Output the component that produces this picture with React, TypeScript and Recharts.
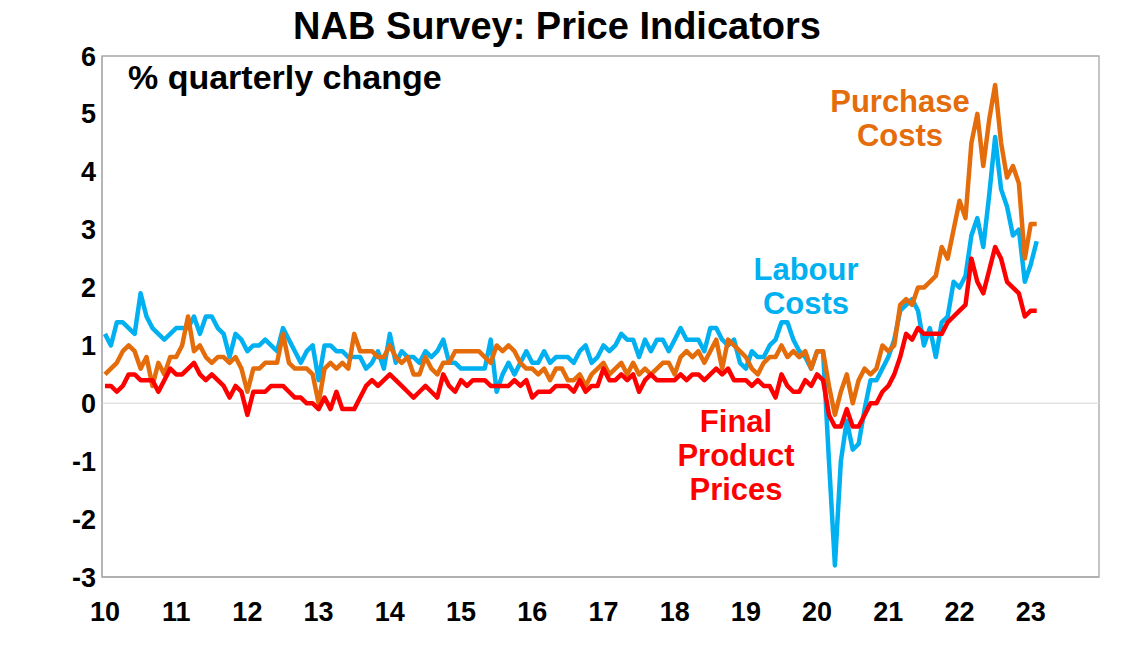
import React from 'react'
import { LineChart, Line, XAxis, YAxis, ReferenceLine, ReferenceArea } from 'recharts'

// monthly, Jan 2010 .. Feb 2023
const yearLabels = ['10', '11', '12', '13', '14', '15', '16', '17', '18', '19', '20', '21', '22', '23']

const labourCosts = [
  1.2, 1.0, 1.4, 1.4, 1.3, 1.2, 1.9, 1.5, 1.3, 1.2,
  1.1, 1.2, 1.3, 1.3, 1.3, 1.5, 1.2, 1.5, 1.5, 1.3,
  1.2, 0.8, 1.2, 1.1, 0.9, 1.0, 1.0, 1.1, 1.0, 0.9,
  1.3, 1.1, 0.9, 0.7, 0.9, 1.0, 0.4, 1.0, 1.0, 0.9,
  0.9, 0.8, 0.8, 0.8, 0.6, 0.7, 0.9, 0.6, 1.2, 0.7,
  0.9, 0.8, 0.8, 0.7, 0.9, 0.8, 0.9, 1.1, 0.7, 0.7,
  0.6, 0.6, 0.6, 0.6, 0.6, 1.1, 0.2, 0.5, 0.7, 0.5,
  0.7, 0.9, 0.7, 0.7, 0.9, 0.7, 0.8, 0.8, 0.8, 0.7,
  0.9, 1.0, 0.7, 0.8, 1.0, 0.9, 1.0, 1.2, 1.1, 1.1,
  0.8, 1.1, 0.9, 1.1, 1.1, 0.9, 1.1, 1.3, 1.1, 1.1,
  1.1, 0.9, 1.3, 1.3, 1.1, 1.0, 1.1, 0.7, 0.6, 0.9,
  0.8, 0.8, 1.0, 1.1, 1.4, 1.4, 1.1, 0.9, 0.8, 0.6,
  0.9, 0.9, -1.0, -2.8, -1.0, -0.3, -0.8, -0.7, -0.1, 0.4,
  0.4, 0.6, 0.8, 1.1, 1.6, 1.7, 1.8, 1.6, 1.0, 1.3,
  0.8, 1.4, 1.5, 2.1, 2.0, 2.2, 2.9, 3.2, 2.7, 3.6,
  4.6, 3.7, 3.4, 2.9, 3.0, 2.1, 2.4, 2.8,
]

const purchaseCosts = [
  0.5, 0.6, 0.7, 0.9, 1.0, 0.9, 0.6, 0.8, 0.3, 0.7,
  0.5, 0.8, 0.8, 1.0, 1.5, 0.9, 1.0, 0.8, 0.7, 0.8,
  0.8, 0.7, 0.8, 0.6, 0.2, 0.6, 0.6, 0.7, 0.7, 0.7,
  1.2, 0.7, 0.6, 0.6, 0.6, 0.5, 0.0, 0.6, 0.7, 0.6,
  0.7, 0.6, 1.2, 0.9, 0.9, 0.9, 0.8, 0.8, 1.0, 0.8,
  0.7, 0.8, 0.5, 0.5, 0.8, 0.6, 0.5, 0.7, 0.7, 0.9,
  0.9, 0.9, 0.9, 0.9, 0.8, 0.7, 1.0, 0.9, 1.0, 0.9,
  0.7, 0.6, 0.6, 0.5, 0.6, 0.4, 0.6, 0.6, 0.4, 0.4,
  0.5, 0.3, 0.5, 0.6, 0.7, 0.5, 0.6, 0.7, 0.5, 0.7,
  0.5, 0.6, 0.5, 0.6, 0.7, 0.7, 0.5, 0.8, 0.9, 0.8,
  0.9, 0.7, 0.9, 1.1, 0.6, 1.1, 1.0, 0.9, 0.8, 0.6,
  0.5, 0.7, 0.8, 0.8, 1.0, 0.8, 0.9, 0.8, 0.9, 0.6,
  0.9, 0.9, 0.3, -0.2, 0.2, 0.5, 0.0, 0.4, 0.6, 0.5,
  0.6, 1.0, 0.9, 1.0, 1.7, 1.8, 1.7, 2.0, 2.0, 2.1,
  2.2, 2.7, 2.5, 3.0, 3.5, 3.2, 4.5, 5.0, 4.1, 4.9,
  5.5, 4.5, 3.9, 4.1, 3.8, 2.5, 3.1, 3.1,
]

const finalPrices = [
  0.3, 0.3, 0.2, 0.3, 0.5, 0.5, 0.4, 0.4, 0.4, 0.2,
  0.4, 0.6, 0.5, 0.5, 0.6, 0.7, 0.5, 0.4, 0.5, 0.4,
  0.3, 0.1, 0.3, 0.2, -0.2, 0.2, 0.2, 0.2, 0.3, 0.3,
  0.3, 0.2, 0.1, 0.1, 0.0, 0.0, -0.1, 0.1, -0.1, 0.2,
  -0.1, -0.1, -0.1, 0.1, 0.3, 0.4, 0.3, 0.4, 0.5, 0.4,
  0.3, 0.2, 0.1, 0.2, 0.3, 0.2, 0.1, 0.5, 0.3, 0.2,
  0.4, 0.3, 0.4, 0.4, 0.4, 0.3, 0.3, 0.3, 0.3, 0.4,
  0.3, 0.4, 0.1, 0.2, 0.2, 0.2, 0.3, 0.3, 0.3, 0.2,
  0.4, 0.2, 0.3, 0.3, 0.6, 0.4, 0.4, 0.5, 0.4, 0.5,
  0.2, 0.4, 0.5, 0.4, 0.4, 0.4, 0.4, 0.5, 0.4, 0.5,
  0.5, 0.4, 0.5, 0.6, 0.5, 0.6, 0.4, 0.4, 0.4, 0.3,
  0.4, 0.3, 0.3, 0.1, 0.5, 0.3, 0.2, 0.2, 0.4, 0.3,
  0.5, 0.4, -0.2, -0.4, -0.4, -0.1, -0.4, -0.4, -0.2, 0.0,
  0.0, 0.2, 0.3, 0.5, 0.8, 1.2, 1.1, 1.3, 1.2, 1.2,
  1.2, 1.2, 1.4, 1.5, 1.6, 1.7, 2.5, 2.1, 1.9, 2.3,
  2.7, 2.5, 2.1, 2.0, 1.9, 1.5, 1.6, 1.6,
]

const yTicks = [-3, -2, -1, 0, 1, 2, 3, 4, 5, 6]

const data = labourCosts.map((v, i) => ({
  m: i,
  labour: v,
  purchase: purchaseCosts[i],
  final: finalPrices[i],
}))

const yearTicks = yearLabels.map((_, i) => i * 12)
const lastCat = yearLabels.length * 12 - 1 // axis runs to Dec-23

const BLUE = '#00B0F0'
const ORANGE = '#E46C0A'
const RED = '#FF0000'
const FONT = '"Liberation Sans", Arial, sans-serif'

const tickStyle = { fill: '#000', fontSize: 27, fontWeight: 700, fontFamily: FONT }

// series captions, one entry per line
const NOTE_SIZE = 31
const NOTE_GAP = 34

function Note({ x, cy, lines, color }: { x: number; cy: number; lines: string[]; color: string }) {
  const top = cy - ((lines.length - 1) * NOTE_GAP) / 2
  return (
    <>
      {lines.map((t, i) => (
        <text key={t} x={x} y={top + i * NOTE_GAP + NOTE_SIZE * 0.36} textAnchor="middle" fontSize={NOTE_SIZE} fill={color}>
          {t}
        </text>
      ))}
    </>
  )
}

export default function App() {
  return (
    <div style={{ position: 'absolute', left: 0, top: 0, width: 1123, height: 660, background: '#fff', fontFamily: FONT }}>
      <LineChart width={1123} height={660} data={data} margin={{ top: 56, right: 24, bottom: 43, left: 42 }}>
        <ReferenceArea x1={-0.5} x2={lastCat + 0.5} y1={-3} y2={6} fill="none" stroke="#A6A6A6" strokeWidth={1.3} />
        <ReferenceLine y={0} stroke="#E3E3E3" strokeWidth={1.5} />
        <XAxis
          dataKey="m"
          type="number"
          domain={[-0.5, lastCat + 0.5]}
          ticks={yearTicks}
          tickFormatter={(m) => yearLabels[m / 12]}
          interval={0}
          tick={tickStyle}
          tickLine={false}
          tickSize={0}
          tickMargin={25}
          axisLine={{ stroke: '#A6A6A6' }}
          height={40}
        />
        <YAxis
          type="number"
          domain={[-3, 6]}
          ticks={yTicks}
          interval={0}
          tick={tickStyle}
          tickLine={false}
          tickSize={0}
          tickMargin={6}
          axisLine={{ stroke: '#A6A6A6' }}
          width={60}
        />
        <Line type="linear" dataKey="labour" stroke={BLUE} strokeWidth={4.5} dot={false} strokeLinejoin="round" isAnimationActive={false} />
        <Line type="linear" dataKey="purchase" stroke={ORANGE} strokeWidth={4.5} dot={false} strokeLinejoin="round" isAnimationActive={false} />
        <Line type="linear" dataKey="final" stroke={RED} strokeWidth={4.5} dot={false} strokeLinejoin="round" isAnimationActive={false} />
      </LineChart>
      <svg width={1123} height={660} style={{ position: 'absolute', left: 0, top: 0, pointerEvents: 'none' }}>
        <g fontFamily={FONT} fontWeight={700}>
          <text x={557} y={39} textAnchor="middle" fontSize={38} fill="#000">NAB Survey: Price Indicators</text>
          <text x={128} y={89} fontSize={34} fill="#000">% quarterly change</text>
          <Note x={900} cy={118} lines={['Purchase', 'Costs']} color={ORANGE} />
          <Note x={806} cy={286} lines={['Labour', 'Costs']} color={BLUE} />
          <Note x={736} cy={455} lines={['Final', 'Product', 'Prices']} color={RED} />
        </g>
      </svg>
    </div>
  )
}
